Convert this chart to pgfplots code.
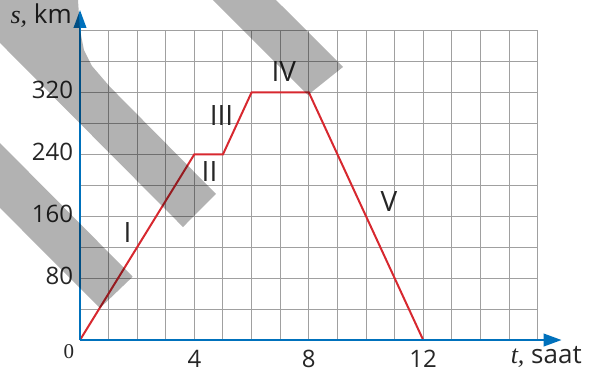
\documentclass[border=0pt]{standalone}
\usepackage{fontspec}
\setmainfont{Open Sans}
\newfontfamily\tms{Liberation Serif}
\usepackage{pgfplots}
\pgfplotsset{compat=1.18}
\usetikzlibrary{arrows.meta}

\definecolor{axblue}{HTML}{0071BC}
\definecolor{pathred}{HTML}{D7282F}
\definecolor{gridgray}{HTML}{A0A0A0}

\newcommand\tickfont{\fontsize{24}{24}\selectfont}

\begin{document}
\begin{tikzpicture}
\begin{axis}[
    x=28.6pt, y=0.774pt,
    xmin=0, xmax=16, ymin=0, ymax=400,
    clip=false,
    axis line style={draw=none},
    xtick={4,8,12},
    ytick={80,160,240,320},
    minor xtick={1,...,16},
    minor ytick={40,80,...,400},
    major tick length=0pt, minor tick length=0pt,
    grid=both,
    major grid style={draw=gridgray, line width=1pt},
    minor grid style={draw=gridgray, line width=1pt},
    xticklabel={\tickfont\pgfmathprintnumber[assume math mode=true]{\tick}},
    yticklabel={\tickfont\pgfmathprintnumber[assume math mode=true]{\tick}},
    xticklabel style={text=black!85, anchor=north, inner sep=0pt, yshift=-10pt},
    yticklabel style={text=black!85, anchor=east, inner sep=0pt, xshift=-6.7pt, yshift=2.5pt},
]
% motion graph
\addplot[pathred, line width=2pt, mark=none] coordinates {
(0,0) (4,240) (5,240) (6,320) (8,320) (12,0)
};

% axes with arrows
\draw[axblue, line width=2.3pt, -{Triangle[length=18pt, width=12.5pt]}] (axis cs:0,0) -- (axis cs:16.84,0);
\draw[axblue, line width=2.3pt, -{Triangle[length=18pt, width=12.5pt]}] (axis cs:0,0) -- (axis cs:0,426.4);

% segment labels
\node[font=\fontsize{28}{28}\selectfont, text=black!85] at (axis cs:1.66,139.5) {I};
\node[font=\fontsize{28}{28}\selectfont, text=black!85] at (axis cs:4.53,218.3) {II};
\node[font=\fontsize{28}{28}\selectfont, text=black!85] at (axis cs:4.95,290) {III};
\node[font=\fontsize{28}{28}\selectfont, text=black!85] at (axis cs:7.13,347) {IV};
\node[font=\fontsize{28}{28}\selectfont, text=black!85] at (axis cs:10.8,179.6) {V};

% axis labels
\node[anchor=base east, inner sep=0pt, font=\fontsize{26}{26}\selectfont, text=black!85] at (axis cs:-0.28,408.3) {{\tms\itshape s,} km};
\node[anchor=base east, inner sep=0pt, font=\fontsize{26}{26}\selectfont, text=black!85] at (axis cs:17.55,-30.1) {{\tms\itshape t,} saat};
\node[inner sep=0pt, font=\fontsize{21}{21}\selectfont\tms, text=black!85] at (axis cs:-0.385,-14.9) {0};

% grey diagonal bands lying over the sheet
\addplot[draw=none, fill=black, fill opacity=0.3] coordinates {
(-2.797,254.5) (-2.797,170.6) (0.699,41.3) (1.843,81.8)
} -- cycle;
\addplot[draw=none, fill=black, fill opacity=0.3] coordinates {
(-2.797,439.3) (-0.07,439.3) (0,400.5) (0.14,374.7) (0.42,354) (1.049,327)
(4.755,188.7) (3.601,146) (-2.797,383.8)
} -- cycle;
\addplot[draw=none, fill=black, fill opacity=0.3] coordinates {
(4.65,439.3) (7.97,316.6) (9.196,352.8) (6.853,439.3)
} -- cycle;

% page frame
\path (axis cs:-2.797,-41.34) rectangle (axis cs:17.937,439.28);
\end{axis}
\end{tikzpicture}
\end{document}
